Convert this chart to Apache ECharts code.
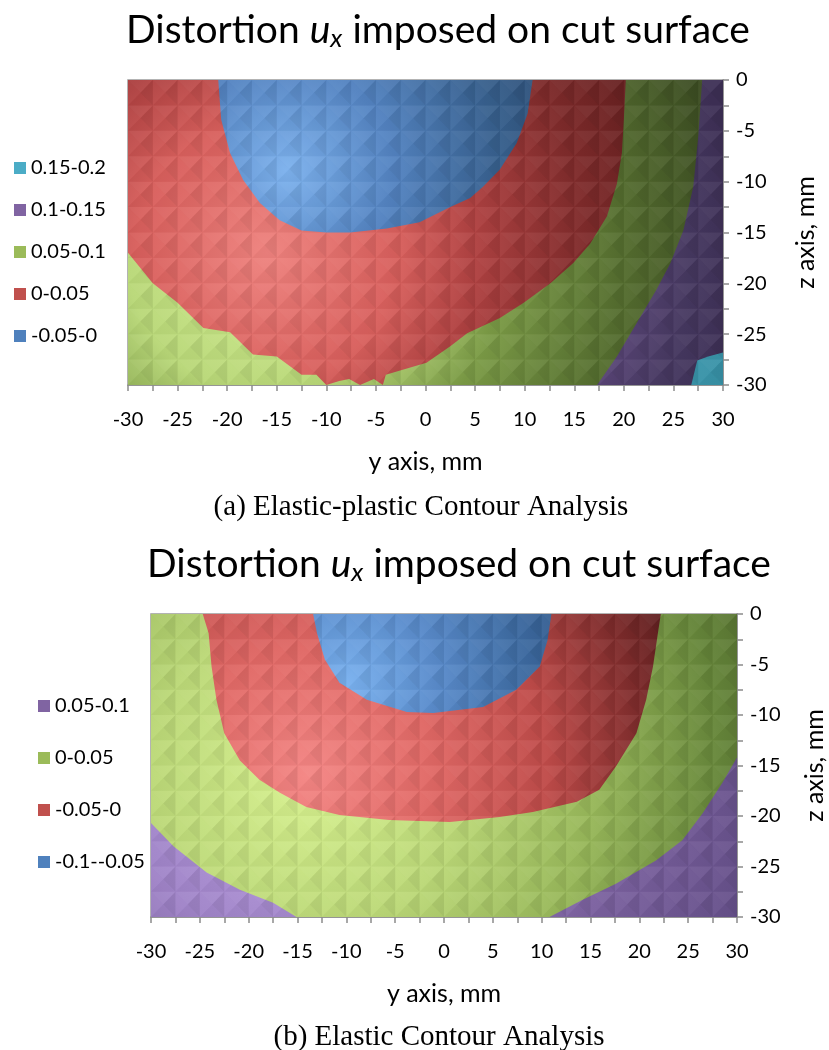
<!DOCTYPE html>
<html>
<head>
<meta charset="utf-8">
<script src="https://cdn.jsdelivr.net/npm/echarts@6/dist/echarts.min.js"></script>
<style>
  html, body { margin: 0; padding: 0; background: #fff; }
  #chart { width: 829px; height: 1050px; }
</style>
</head>
<body>
<div id="chart"></div>
<script>
// Contour bands of the out-of-plane distortion u_x over the cut surface.
// Each band is stored as its boundary polygon in (y, z) millimetres.

// ---- (a) Elastic-plastic contour analysis ----
const aLabels = ['0.15-0.2', '0.1-0.15', '0.05-0.1', '0-0.05', '-0.05-0'];
const aBand005_01 = [[-30, 0], [30, 0], [30, -30], [-30, -30]];
const aBand0_005 = [[-30, 0], [20.2, 0], [20.0, -3.9], [19.8, -7.2], [19.3, -10.2], [18.3, -13.4],
  [16.6, -16.1], [14.9, -18.0], [12.6, -20.0], [9.9, -21.9], [7.5, -23.4], [4.2, -24.9],
  [2.5, -26.2], [0.1, -27.8], [-2.3, -28.5], [-4.0, -29.0], [-4.3, -30], [-5.2, -29.4],
  [-6.6, -30], [-7.7, -29.4], [-8.7, -29.6], [-10.0, -30], [-11.0, -29.0], [-12.5, -29.0],
  [-15.0, -27.2], [-17.4, -27.0], [-19.7, -24.8], [-22.4, -24.4], [-25.0, -21.9],
  [-27.5, -20.0], [-30, -17.0]];
const aBandM005_0 = [[-20.9, 0], [-20.6, -3.9], [-19.7, -7.2], [-18.4, -9.8], [-16.7, -12.1],
  [-14.7, -13.8], [-12.5, -14.8], [-10.0, -15.0], [-7.6, -15.0], [-3.9, -14.6], [-0.6, -14.0],
  [2.5, -12.5], [4.5, -11.6], [5.8, -10.5], [7.5, -8.8], [9.2, -6.2], [10.3, -3.3], [10.8, 0]];
const aBand01_015 = [[27.9, 0], [30, 0], [30, -30], [17.3, -30], [19.3, -27.2], [21.3, -23.9],
  [23.3, -20.6], [24.7, -18.0], [26.0, -14.8], [27.0, -10.5], [27.5, -5.6]];
const aBand015_02 = [[26.8, -30], [27.4, -27.6], [28.5, -27.2], [30, -26.8], [30, -30]];

// ---- (b) Elastic contour analysis ----
const bLabels = ['0.05-0.1', '0-0.05', '-0.05-0', '-0.1--0.05'];
const bBand0_005 = [[-30, 0], [30, 0], [30, -30], [-30, -30]];
const bBandM005_0 = [[-24.7, 0], [22.2, 0], [21.9, -1.9], [21.4, -5.2], [20.7, -8.5], [19.7, -11.8],
  [17.6, -15.1], [15.9, -17.4], [13.6, -18.6], [9.1, -19.6], [5.7, -20.1], [0.6, -20.6],
  [-5.6, -20.4], [-10.7, -19.9], [-14.1, -19.1], [-16.8, -17.7], [-18.9, -16.4],
  [-20.9, -14.5], [-22.5, -11.8], [-23.3, -8.5], [-23.8, -5.2], [-24.1, -1.9]];
const bBandM01_M005 = [[-13.4, 0], [11.0, 0], [10.6, -2.6], [9.8, -5.2], [7.4, -7.5], [4.0, -9.2],
  [0.6, -9.6], [-1.1, -9.8], [-3.8, -9.7], [-7.9, -8.5], [-10.7, -6.8], [-12.2, -4.5], [-13.0, -1.9]];
const bBand005_01Left = [[-30, -20.7], [-27.7, -23.0], [-24.3, -25.6], [-20.9, -27.3],
  [-17.5, -28.6], [-15.1, -30], [-30, -30]];
const bBand005_01Right = [[10.8, -30], [14.2, -28.3], [17.6, -26.7], [21.7, -24.4], [24.4, -22.4],
  [26.5, -19.7], [28.5, -16.7], [30, -14.2], [30, -30]];

// Measurement mesh nodes (mm) on which the surface is faceted
const meshY = [-30, -27.5, -25, -22.5, -20, -17.5, -15, -12.5, -10, -7.5, -5, -2.5, 0,
  2.5, 5, 7.5, 10, 12.5, 15, 17.5, 20, 22.5, 25, 27.5, 30];
const meshZ = [0, -2.5, -5, -7.5, -10, -12.5, -15, -17.5, -20, -22.5, -25, -27.5, -30];

// Axis ranges (mm)
const yRange = [-30, 30];
const zRange = [-30, 0];
const tickStep = 5;

const TEXT_FONT = 'Lato';
const AXIS_GREY = '#8c8c8c';

// Shading: radial light falloff centred on a point of each plot
function shade(polys, light, radius, stops) {
  return function (params, api) {
    const pts = polys[params.dataIndex].map(p => api.coord(p));
    const c = api.coord(light);
    return {
      type: 'polygon',
      shape: { points: pts },
      style: {
        fill: {
          type: 'radial', x: c[0], y: c[1], r: radius, global: true,
          colorStops: stops.map(s => ({ offset: s[0], color: s[1] }))
        },
        stroke: null
      }
    };
  };
}

function band(name, gridIndex, polys, color, light, radius, stops) {
  return {
    type: 'custom',
    name: name,
    xAxisIndex: gridIndex,
    yAxisIndex: gridIndex,
    coordinateSystem: 'cartesian2d',
    itemStyle: { color: color },
    silent: true,
    data: polys.map(p => p[0]),
    renderItem: shade(polys, light, radius, stops)
  };
}

// Faceted look of the surface: each mesh cell split into four triangles
function mesh(gridIndex) {
  const cells = [];
  for (let i = 0; i < meshY.length - 1; i++) {
    for (let j = 0; j < meshZ.length - 1; j++) {
      cells.push([meshY[i], meshZ[j], meshY[i + 1], meshZ[j + 1]]);
    }
  }
  return {
    type: 'custom',
    xAxisIndex: gridIndex,
    yAxisIndex: gridIndex,
    coordinateSystem: 'cartesian2d',
    silent: true,
    encode: { x: [0, 2], y: [1, 3] },
    data: cells,
    renderItem: function (params, api) {
      const a = api.coord([api.value(0), api.value(1)]);
      const b = api.coord([api.value(2), api.value(3)]);
      const x0 = a[0], y0 = a[1], x1 = b[0], y1 = b[1];
      const cx = (x0 + x1) / 2, cy = (y0 + y1) / 2;
      const tri = (pts, fill) => ({ type: 'polygon', shape: { points: pts }, style: { fill: fill } });
      return {
        type: 'group',
        children: [
          tri([[x0, y0], [x1, y0], [cx, cy]], 'rgba(255,255,255,0.05)'),
          tri([[x1, y0], [x1, y1], [cx, cy]], 'rgba(0,0,0,0.07)'),
          tri([[x0, y1], [x1, y1], [cx, cy]], 'rgba(0,0,0,0.03)'),
          tri([[x0, y0], [x0, y1], [cx, cy]], 'rgba(255,255,255,0.03)')
        ]
      };
    }
  };
}

function xAxisFor(gridIndex) {
  return {
    type: 'value', gridIndex: gridIndex, min: yRange[0], max: yRange[1], interval: tickStep,
    position: 'bottom',
    name: 'y axis, mm', nameLocation: 'middle', nameGap: 64,
    nameTextStyle: { fontFamily: TEXT_FONT, fontSize: 25, color: '#000' },
    axisLine: { show: true, onZero: false, lineStyle: { color: AXIS_GREY, width: 1.5 } },
    axisTick: { show: true, length: 6, lineStyle: { color: AXIS_GREY, width: 1.5 } },
    minorTick: { show: true, splitNumber: 2, length: 6, lineStyle: { color: AXIS_GREY, width: 1.5 } },
    axisLabel: { fontFamily: TEXT_FONT, fontSize: 20, color: '#000', margin: 25 },
    splitLine: { show: false }
  };
}

function yAxisFor(gridIndex, nameGap) {
  return {
    type: 'value', gridIndex: gridIndex, min: zRange[0], max: zRange[1], interval: tickStep,
    position: 'right',
    name: 'z axis, mm', nameLocation: 'middle', nameGap: nameGap, nameRotate: 90,
    nameTextStyle: { fontFamily: TEXT_FONT, fontSize: 25, color: '#000' },
    axisLine: { show: true, onZero: false, lineStyle: { color: AXIS_GREY, width: 1.5 } },
    axisTick: { show: true, length: 6, lineStyle: { color: AXIS_GREY, width: 1.5 } },
    minorTick: { show: true, splitNumber: 2, length: 6, lineStyle: { color: AXIS_GREY, width: 1.5 } },
    axisLabel: { fontFamily: TEXT_FONT, fontSize: 20, color: '#000', margin: 13 },
    splitLine: { show: false }
  };
}

const titleRich = {
  n: { fontFamily: TEXT_FONT, fontSize: 39, fontWeight: 'normal', color: '#000' },
  u: { fontFamily: TEXT_FONT, fontSize: 39, fontWeight: 'normal', fontStyle: 'italic', color: '#000' },
  s: { fontFamily: TEXT_FONT, fontSize: 26, fontWeight: 'normal', fontStyle: 'italic', color: '#000', padding: [18, 0, 0, 0] }
};
// a zero-width non-joiner keeps "t" and "i" as separate glyphs
const titleText = '{n|Distor\u200Ction }{u|u}{s|x}{n| imposed on cut surface}';

const lightA = [-16, -17];
const lightB = [-14, -16];

const chart = echarts.init(document.getElementById('chart'), null, { renderer: 'canvas' });

const legendText = { fontFamily: TEXT_FONT, fontSize: 20, color: '#000', lineHeight: 20 };

chart.setOption({
  animation: false,
  backgroundColor: '#fff',
  title: [
    { text: titleText, left: 433, top: 3, textAlign: 'center', textStyle: { fontWeight: 'normal', rich: titleRich } },
    { text: titleText, left: 454, top: 537, textAlign: 'center', textStyle: { fontWeight: 'normal', rich: titleRich } }
  ],
  legend: [
    {
      orient: 'vertical', left: 9, top: 153, itemWidth: 12, itemHeight: 12, itemGap: 22,
      icon: 'rect', selectedMode: false,
      data: aLabels.map(l => 'a:' + l),
      formatter: n => n.slice(2),
      textStyle: legendText
    },
    {
      orient: 'vertical', left: 33, top: 691, itemWidth: 12, itemHeight: 12, itemGap: 32,
      icon: 'rect', selectedMode: false,
      data: bLabels.map(l => 'b:' + l),
      formatter: n => n.slice(2),
      textStyle: legendText
    }
  ],
  grid: [
    { left: 128, top: 80, width: 595, height: 305, outerBoundsMode: 'none', show: true, borderColor: '#9a9a9a', borderWidth: 1.5, backgroundColor: 'transparent' },
    { left: 151, top: 614, width: 586, height: 303, outerBoundsMode: 'none', show: true, borderColor: '#9a9a9a', borderWidth: 1.5, backgroundColor: 'transparent' }
  ],
  xAxis: [xAxisFor(0), xAxisFor(1)],
  yAxis: [yAxisFor(0, 70), yAxisFor(1, 65)],
  series: [
    band('a:0.05-0.1', 0, [aBand005_01], '#9BBB59', lightA, 470,
      [[0, '#d2ee92'], [0.3, '#b9d878'], [0.5, '#7c9c47'], [0.75, '#566f30'], [1, '#3b4b22']]),
    band('a:0-0.05', 0, [aBand0_005], '#C0504D', lightA, 430,
      [[0, '#ef827e'], [0.3, '#d9605d'], [0.5, '#ad4040'], [0.75, '#7e2b2b'], [1, '#5e1d1d']]),
    band('a:-0.05-0', 0, [aBandM005_0], '#4F81BD', [-14, -9], 300,
      [[0, '#7db2ee'], [0.35, '#5484c2'], [0.7, '#38618f'], [1, '#2b4a70']]),
    band('a:0.1-0.15', 0, [aBand01_015], '#8064A2', lightA, 470,
      [[0, '#8a6db0'], [0.75, '#5a4678'], [0.9, '#463860'], [1, '#3e3056']]),
    band('a:0.15-0.2', 0, [aBand015_02], '#4BACC6', lightA, 470,
      [[0, '#4bacc6'], [1, '#3993a8']]),
    mesh(0),

    band('b:0-0.05', 1, [bBand0_005], '#9BBB59', lightB, 520,
      [[0, '#d8f290'], [0.3, '#bcd978'], [0.55, '#98b85a'], [0.8, '#66863a'], [1, '#4a622a']]),
    band('b:-0.05-0', 1, [bBandM005_0], '#C0504D', lightB, 400,
      [[0, '#f48684'], [0.3, '#e26a67'], [0.6, '#c04c4a'], [0.85, '#7e2c2c'], [1, '#5a1e1e']]),
    band('b:-0.1--0.05', 1, [bBandM01_M005], '#4F81BD', [-10, -7], 260,
      [[0, '#7ab2f0'], [0.35, '#5a8ccc'], [0.7, '#3d6aa0'], [1, '#2e5482']]),
    band('b:0.05-0.1', 1, [bBand005_01Left, bBand005_01Right], '#8064A2', lightB, 520,
      [[0, '#bca0e4'], [0.35, '#a084c8'], [0.6, '#7c62a0'], [1, '#5c4880']]),
    mesh(1)
  ],
  graphic: [
    { type: 'text', x: 421, y: 507, style: { text: '(a) Elastic-plastic Contour Analysis', font: '29px "Liberation Serif"', fill: '#000', align: 'center', verticalAlign: 'middle' } },
    { type: 'text', x: 439, y: 1037, style: { text: '(b) Elastic Contour Analysis', font: '29px "Liberation Serif"', fill: '#000', align: 'center', verticalAlign: 'middle' } }
  ]
});
</script>
</body>
</html>
